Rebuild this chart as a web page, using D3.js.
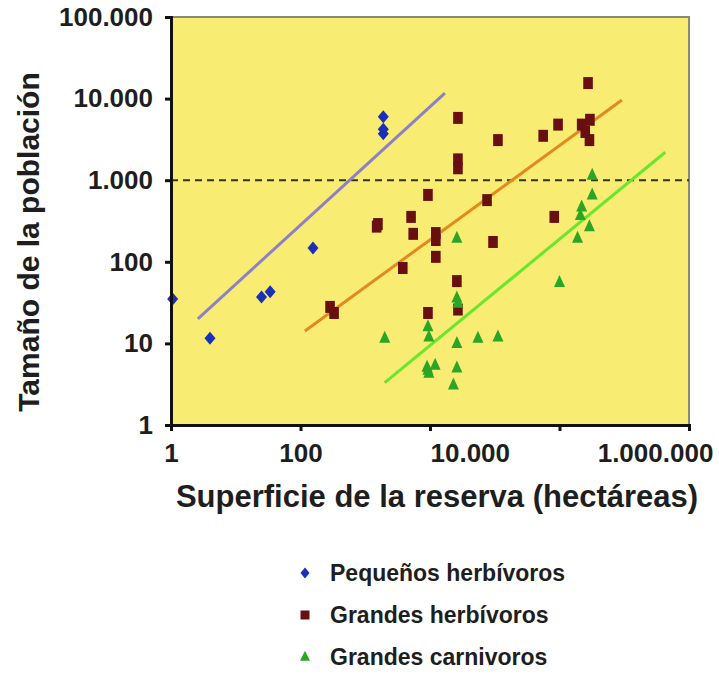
<!DOCTYPE html>
<html>
<head>
<meta charset="utf-8">
<script src="https://cdn.jsdelivr.net/npm/d3@7/dist/d3.min.js"></script>
<style>
  html, body { margin: 0; padding: 0; background: #ffffff; }
  svg text { font-family: "Liberation Sans", Arial, Helvetica, sans-serif; font-weight: bold; fill: #1e1e1e; }
</style>
</head>
<body>
<svg id="chart" width="719" height="675"></svg>
<script>
// Superficie de la reserva (ha) y tamaño de la población por grupo
const pequenosArea = [1.06, 4, 25, 34, 156, 1900, 1900, 1900];
const pequenosPob  = [35, 11.6, 37, 43, 148, 6000, 4200, 3700];

const grandesHerbArea = [286, 330, 1570, 1500, 3800, 5100, 5500, 9300, 9300, 12300, 12300, 12300,
  27000, 27000, 27000, 26000, 27000, 76000, 94000, 112000, 560000, 950000, 830000,
  2.2e6, 2.95e6, 2.5e6, 2.9e6, 2.76e6];
const grandesHerbPob = [28, 23.6, 290, 270, 84, 355, 220, 660, 23.6, 225, 185, 115,
  5800, 1800, 1400, 58, 26, 570, 175, 3100, 3500, 4800, 355,
  4800, 5500, 3900, 3100, 15500];

const carnivorosArea = [2000, 9300, 9600, 9000, 9300, 9600, 12000, 26000, 26000, 27000, 26000, 26000,
  23000, 55000, 112000, 1e6, 1.9e6, 2.2e6, 2.1e6, 2.9e6, 3.2e6, 3.2e6];
const carnivorosPob = [11.6, 16, 12, 5.1, 4.7, 4.3, 5.4, 195, 36, 31, 10, 5,
  3.1, 11.6, 12, 56, 195, 470, 370, 270, 1150, 660];

// Rectas de ajuste: extremos [área, población]
const ajustePequenos    = [[2.6, 20], [17000, 11700]];
const ajusteGrandesHerb = [[117, 14.2], [9.2e6, 9600]];
const ajusteCarnivoros  = [[2000, 3.3], [4.3e7, 2200]];

const umbralPoblacion = 1000;

const xTicks = [1, 100, 1e4, 1e6, 1e8];
const xTickLabels = ["1", "100", "10.000", "1.000.000", ""];
const yTicks = [1, 10, 100, 1000, 10000, 100000];

const series = ["Pequeños herbívoros", "Grandes herbívoros", "Grandes carnivoros"];
const colores = ["#1b2fb8", "#6a0f10", "#2aa624"];
const coloresAjuste = ["#8e7fc6", "#e38a1f", "#6ae62e"];

const tituloX = "Superficie de la reserva (hectáreas)";
const tituloY = "Tamaño de la población";

const svg = d3.select("#chart");
const m = { left: 171, right: 30, top: 17, bottom: 250 };
const W = 719, H = 675;

const x = d3.scaleLog().domain([1, 1e8]).range([m.left, W - m.right]);
const y = d3.scaleLog().domain([1, 1e5]).range([H - m.bottom, m.top]);

const loc = d3.formatLocale({ decimal: ",", thousands: ".", grouping: [3], currency: ["", ""] });
const fmt = loc.format(",d");

// fondo del área de trazado
svg.append("rect")
  .attr("x", x.range()[0]).attr("y", y.range()[1])
  .attr("width", x.range()[1] - x.range()[0])
  .attr("height", y.range()[0] - y.range()[1])
  .attr("fill", "#f8ec72");

// bordes superior y derecho
svg.append("path")
  .attr("d", `M${x.range()[0]},${y.range()[1]}H${x.range()[1]}V${y.range()[0]}`)
  .attr("fill", "none").attr("stroke", "#8a8a70").attr("stroke-width", 2);

// línea de referencia en 1.000 individuos
svg.append("line")
  .attr("x1", x.range()[0]).attr("x2", x.range()[1])
  .attr("y1", y(umbralPoblacion)).attr("y2", y(umbralPoblacion))
  .attr("stroke", "#35331a").attr("stroke-width", 2).attr("stroke-dasharray", "7,5");

// rectas de ajuste
[ajustePequenos, ajusteGrandesHerb, ajusteCarnivoros].forEach((seg, i) => {
  svg.append("line")
    .attr("x1", x(seg[0][0])).attr("y1", y(seg[0][1]))
    .attr("x2", x(seg[1][0])).attr("y2", y(seg[1][1]))
    .attr("stroke", coloresAjuste[i]).attr("stroke-width", 3);
});

// símbolos (rombo ancho, cuadrado algo alto, triángulo)
const rombo = (w, h) => `M0,${-h}L${w},0L0,${h}L${-w},0Z`;
const rect = (w, h) => `M${-w},${-h}H${w}V${h}H${-w}Z`;
const tri = (w, h) => `M0,${-h * 0.62}L${w},${h * 0.38}H${-w}Z`;
const simbolos = [() => rombo(5.5, 6.5), () => rect(4.8, 6), () => tri(5.5, 12)];
const simbolosLeyenda = [() => rombo(4.5, 5.5), () => rect(4.5, 4.5), () => tri(5, 10)];

const datos = [
  d3.zip(pequenosArea, pequenosPob),
  d3.zip(grandesHerbArea, grandesHerbPob),
  d3.zip(carnivorosArea, carnivorosPob)
];

datos.forEach((pts, i) => {
  svg.append("g").selectAll("path").data(pts).join("path")
    .attr("transform", d => `translate(${x(d[0])},${y(d[1])})`)
    .attr("d", simbolos[i]())
    .attr("fill", colores[i]);
});

// ejes
const gy = svg.append("g").attr("transform", `translate(${x.range()[0]},0)`)
  .call(d3.axisLeft(y).tickValues(yTicks).tickFormat(fmt).tickSize(6).tickPadding(12));
const gx = svg.append("g").attr("transform", `translate(0,${y.range()[0]})`)
  .call(d3.axisBottom(x).tickValues(xTicks).tickFormat((d, i) => xTickLabels[i]).tickSize(6).tickPadding(13));

[gx, gy].forEach(g => {
  g.select(".domain").attr("stroke", "#111").attr("stroke-width", 3);
  g.selectAll(".tick line").attr("stroke", "#111").attr("stroke-width", 3);
  g.selectAll(".tick text").attr("font-size", 26).attr("fill", "#1e1e1e")
    .attr("font-family", "'Liberation Sans', Arial, sans-serif").attr("font-weight", "bold");
});
gx.selectAll(".tick text")
  .attr("text-anchor", (d, i) => i < 2 ? "middle" : "start")
  .attr("dx", (d, i) => i === 3 ? "1.45em" : 0);

// títulos de los ejes
svg.append("text")
  .attr("x", 437).attr("y", 507)
  .attr("text-anchor", "middle").attr("font-size", 31)
  .text(tituloX);

svg.append("text")
  .attr("transform", `translate(39,${(y.range()[0] + y.range()[1]) / 2 + 21}) rotate(-90)`)
  .attr("text-anchor", "middle").attr("font-size", 30)
  .text(tituloY);

// leyenda
const leyenda = svg.append("g").attr("transform", "translate(305,573)");
series.forEach((s, i) => {
  const row = leyenda.append("g").attr("transform", `translate(0,${i * 42})`);
  row.append("path").attr("d", simbolosLeyenda[i]()).attr("fill", colores[i]);
  row.append("text").attr("x", 25).attr("y", 8).attr("font-size", 23).text(s);
});
</script>
</body>
</html>
